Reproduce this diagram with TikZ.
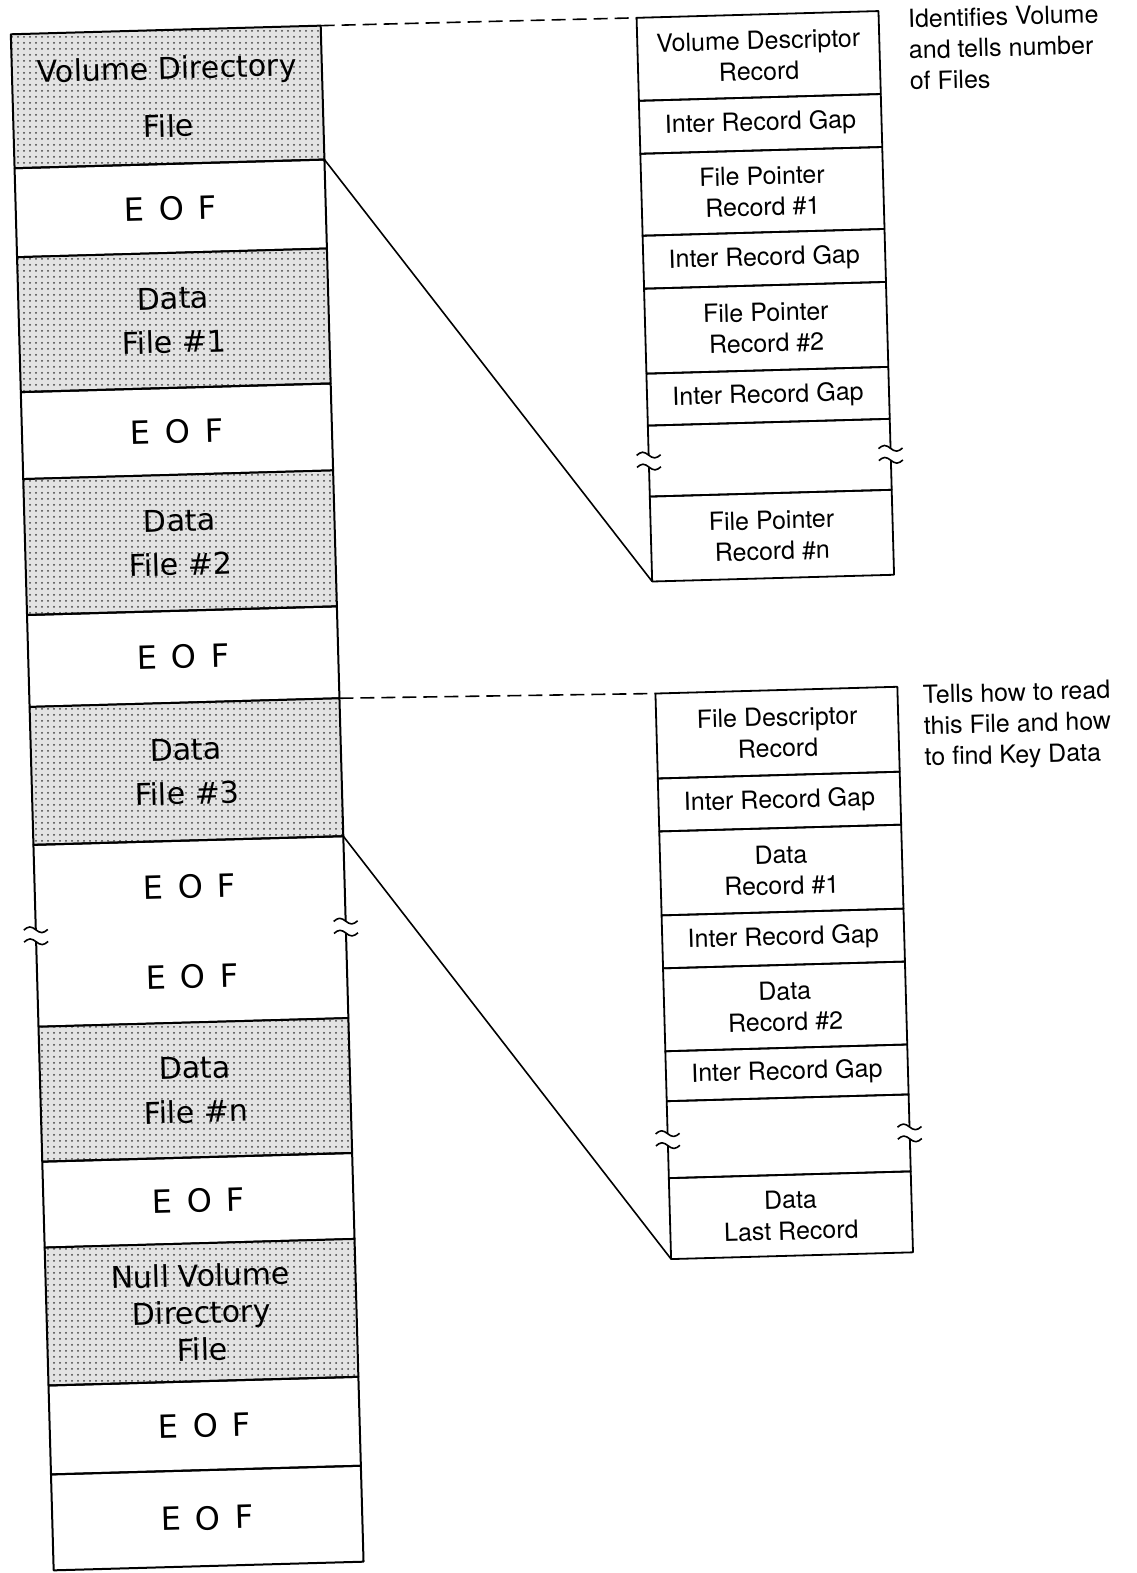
\documentclass[tikz,border=0pt]{standalone}
\usepackage{fontspec}
\setmainfont{TeX Gyre Heros}
\newfontfamily\widesans{DejaVu Sans}
\usetikzlibrary{patterns}

\newcommand{\eoftext}{E\hspace{0.45em}O\hspace{0.45em}F}

\begin{document}
\begin{tikzpicture}[
  x=0.5pt, y=-0.5pt,
  line join=round,
  block/.style={draw, line width=1pt, inner sep=0pt, outer sep=0pt,
    align=center, anchor=north},
  filebox/.style={block, minimum width=155pt,
    preaction={fill=black!11}, pattern=dots, pattern color=black!75,
    font=\widesans\fontsize{15}{22}\selectfont},
  eofbox/.style={block, minimum width=155pt,
    font=\widesans\fontsize{16}{20}\selectfont},
  recbox/.style={block, line width=0.9pt, minimum width=121pt,
    font=\fontsize{12.5}{15.5}\selectfont},
  note/.style={anchor=north west, align=left, inner sep=0pt,
    font=\fontsize{12.5}{15.5}\selectfont},
  link/.style={line width=0.8pt},
  dashlink/.style={link, dash pattern=on 7pt off 3.5pt},
  pics/gapmark/.style={code={
    \fill[white] (-4,-6) rectangle (4,6);
    \draw[line width=0.8pt] (-12,-6) sin (-6,-9) cos (0,-6) sin (6,-3) cos (12,-6);
    \draw[line width=0.8pt] (-12,6) sin (-6,3) cos (0,6) sin (6,9) cos (12,6);
  }}
]
  \useasboundingbox (0,0) rectangle (1136,1573);

  \begin{scope}[rotate around={1.6:(568,786)}, transform shape]

  % Tape: files and end of file marks
  \node[filebox, minimum height=67pt] (vdir) at (187,19)
    {Volume Directory\\[7pt]File};
  \node[eofbox, minimum height=44.5pt] (eof1) at (vdir.south) {\eoftext};
  \node[filebox, minimum height=67.5pt] (file1) at (eof1.south)
    {Data\\File \#1};
  \node[eofbox, minimum height=43.5pt] (eof2) at (file1.south) {\eoftext};
  \node[filebox, minimum height=68pt] (file2) at (eof2.south)
    {Data\\File \#2};
  \node[eofbox, minimum height=46pt] (eof3) at (file2.south) {\eoftext};
  \node[filebox, minimum height=69pt] (file3) at (eof3.south)
    {Data\\File \#3};
  \node[eofbox, minimum height=91pt] (eofs) at (file3.south)
    {\eoftext\\[25pt]\eoftext};
  \node[filebox, minimum height=67.5pt] (filen) at (eofs.south)
    {Data\\File \#n};
  \node[eofbox, minimum height=43pt] (eof4) at (filen.south) {\eoftext};
  \node[filebox, minimum height=69pt,
    font=\widesans\fontsize{15}{18.5}\selectfont] (nulldir) at (eof4.south)
    {Null Volume\\Directory\\File};
  \node[eofbox, minimum height=44.5pt] (eof5) at (nulldir.south) {\eoftext};
  \node[eofbox, minimum height=48pt] (eof6) at (eof5.south) {\eoftext};

  % Volume directory file records
  \node[recbox, minimum height=41.5pt] (vd) at (779,20)
    {Volume Descriptor\\Record};
  \node[recbox, minimum height=26.5pt] (vgap1) at (vd.south) {Inter Record Gap};
  \node[recbox, minimum height=41pt] (fp1) at (vgap1.south)
    {File Pointer\\Record \#1};
  \node[recbox, minimum height=26.5pt] (vgap2) at (fp1.south) {Inter Record Gap};
  \node[recbox, minimum height=42.5pt] (fp2) at (vgap2.south)
    {File Pointer\\Record \#2};
  \node[recbox, minimum height=26pt] (vgap3) at (fp2.south) {Inter Record Gap};
  \node[recbox, minimum height=35.5pt] (vbreak) at (vgap3.south) {};
  \node[recbox, minimum height=42.5pt] (fpn) at (vbreak.south)
    {File Pointer\\Record \#n};

  % Data file records
  \node[recbox, minimum height=42.5pt] (fd) at (779,696)
    {File Descriptor\\Record};
  \node[recbox, minimum height=26.5pt] (fgap1) at (fd.south) {Inter Record Gap};
  \node[recbox, minimum height=42pt] (dr1) at (fgap1.south)
    {Data\\Record \#1};
  \node[recbox, minimum height=26.5pt] (fgap2) at (dr1.south) {Inter Record Gap};
  \node[recbox, minimum height=41.5pt] (dr2) at (fgap2.south)
    {Data\\Record \#2};
  \node[recbox, minimum height=25pt] (fgap3) at (dr2.south) {Inter Record Gap};
  \node[recbox, minimum height=38.5pt] (fbreak) at (fgap3.south) {};
  \node[recbox, minimum height=40.5pt] (dlast) at (fbreak.south)
    {Data\\Last Record};

  % Breaks in the sequence
  \foreach \blk in {eofs, vbreak, fbreak} {
    \pic at (\blk.west) {gapmark};
    \pic at (\blk.east) {gapmark};
  }

  % Expansion lines
  \draw[dashlink] (vdir.north east) -- (vd.north west);
  \draw[link] (vdir.south east) -- (fpn.south west);
  \draw[dashlink] (file3.north east) -- (fd.north west);
  \draw[link] (file3.south east) -- (dlast.south west);

  % Notes
  \node[note] (volnote) at (929,19)
    {Identifies Volume\\and tells number\\of Files};
  \node[note] (filenote) at (925,695)
    {Tells how to read\\this File and how\\to find Key Data};

  \end{scope}
\end{tikzpicture}
\end{document}
